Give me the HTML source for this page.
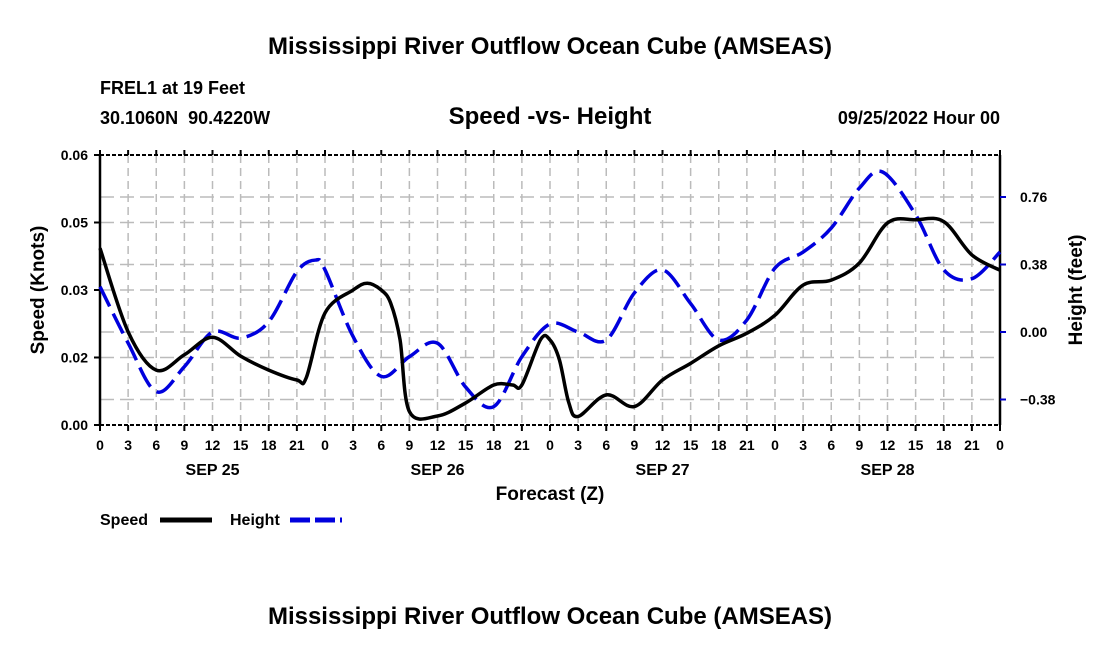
<!DOCTYPE html>
<html><head><meta charset="utf-8"><style>
body{margin:0;background:#fff;}
svg text{font-family:"Liberation Sans",Arial,sans-serif;font-weight:bold;fill:#000;}
</style></head><body>
<svg width="1100" height="650" viewBox="0 0 1100 650" xmlns="http://www.w3.org/2000/svg">
<text x="550" y="54" font-size="24" text-anchor="middle">Mississippi River Outflow Ocean Cube (AMSEAS)</text>
<text x="100" y="94" font-size="18">FREL1 at 19 Feet</text>
<text x="100" y="124" font-size="18">30.1060N&#160;&#160;90.4220W</text>
<text x="550" y="124" font-size="24" text-anchor="middle">Speed -vs- Height</text>
<text x="1000" y="124" font-size="18" text-anchor="end">09/25/2022 Hour 00</text>
<g id="grid"></g>
<g id="axes"></g>
<g id="series"></g>
<text transform="translate(44,290) rotate(-90)" font-size="19" text-anchor="middle">Speed (Knots)</text>
<text transform="translate(1082,290) rotate(-90)" font-size="19" text-anchor="middle">Height (feet)</text>
<text x="550" y="500" font-size="19" text-anchor="middle">Forecast (Z)</text>
<g>
<text x="100" y="525" font-size="16">Speed</text>
<line x1="160" y1="520" x2="212" y2="520" stroke="#000" stroke-width="5"/>
<text x="230" y="525" font-size="16">Height</text>
<line x1="290" y1="520" x2="342" y2="520" stroke="#0000dd" stroke-width="5" stroke-dasharray="20 5"/>
</g>
<text x="550" y="624" font-size="24" text-anchor="middle">Mississippi River Outflow Ocean Cube (AMSEAS)</text>
</svg>
<script>
const hours=[0,3,6,9,12,15,18,21,22,24,27,28.5,30,31,32,33,36,39,42,44,45,47,48,49,50,51,54,57,60,63,66,69,72,75,78,81,84,87,90,93,96];
const speed=[0.0393,0.0207,0.0122,0.0156,0.0195,0.0153,0.0122,0.0100,0.0105,0.0249,0.0300,0.0315,0.0300,0.0271,0.0190,0.0030,0.0020,0.0049,0.0089,0.0089,0.0089,0.0190,0.0189,0.0145,0.0050,0.0019,0.0067,0.0041,0.0100,0.0137,0.0176,0.0204,0.0244,0.0311,0.0322,0.0360,0.0449,0.0456,0.0452,0.0378,0.0344];
const hHours=[0,3,6,9,12,15,18,21,23,24,27,30,33,36,39,42,45,48,51,54,57,60,63,66,69,72,75,78,81,83.5,87,90,93,96];
const height=[0.255,-0.062,-0.336,-0.195,0.0,-0.034,0.058,0.34,0.405,0.35,-0.026,-0.25,-0.139,-0.063,-0.31,-0.42,-0.139,0.045,0.0,-0.045,0.22,0.35,0.16,-0.045,0.068,0.36,0.45,0.585,0.81,0.90,0.66,0.35,0.30,0.45];
const leftTicks=[0,0.015,0.03,0.045,0.06];
const leftTickLabels=["0.00","0.02","0.03","0.05","0.06"];
const rightTicks=[-0.38,0,0.38,0.76];
const rightTickLabels=["\u22120.38","0.00","0.38","0.76"];
const xTickLabels=["0","3","6","9","12","15","18","21"];
const dayLabels=["SEP 25","SEP 26","SEP 27","SEP 28"];
const X0=100,X1=1000,Y0=425,Y1=155;
const xs=h=>X0+h*(X1-X0)/96;
const ysL=v=>Y0-(v-0)*(Y0-Y1)/0.06;
const ysR=v=>332-v*(67.5/0.38);
const NS="http://www.w3.org/2000/svg";
function mk(tag,attrs,parent){const e=document.createElementNS(NS,tag);for(const k in attrs)e.setAttribute(k,attrs[k]);parent.appendChild(e);return e;}
const grid=document.getElementById('grid'),axes=document.getElementById('axes'),series=document.getElementById('series');
for(let h=3;h<96;h+=3){const l=mk('line',{x1:xs(h),x2:xs(h),y1:Y1,y2:Y0,stroke:'#bbb','stroke-width':1.5,'stroke-dasharray':'8 5'},grid);

}
leftTicks.slice(1,4).forEach(v=>{const l=mk('line',{x1:X0,x2:X1,y1:ysL(v),y2:ysL(v),stroke:'#bbb','stroke-width':1.5,'stroke-dasharray':'14 6'},grid);

});
rightTicks.forEach(v=>{const l=mk('line',{x1:X0,x2:X1,y1:ysR(v),y2:ysR(v),stroke:'#bbb','stroke-width':1.5,'stroke-dasharray':'14 6'},grid);

});
let a=mk('line',{x1:X0,x2:X0,y1:Y1,y2:Y0,stroke:'#000','stroke-width':2.5},axes);
a=mk('line',{x1:X1,x2:X1,y1:Y1,y2:Y0,stroke:'#000','stroke-width':2.5},axes);
a=mk('line',{x1:X0,x2:X1,y1:Y1,y2:Y1,stroke:'#000','stroke-width':2,'stroke-dasharray':'4 2'},axes);
a=mk('line',{x1:X0,x2:X1,y1:Y0,y2:Y0,stroke:'#000','stroke-width':2,'stroke-dasharray':'4 2'},axes);
leftTicks.forEach((v,i)=>{mk('line',{x1:X0-6,x2:X0,y1:ysL(v),y2:ysL(v),stroke:'#000','stroke-width':2},axes);
const t=mk('text',{x:X0-12,y:ysL(v)+5,'font-size':14,'text-anchor':'end'},axes);t.textContent=leftTickLabels[i];

});
rightTicks.forEach((v,i)=>{mk('line',{x1:X1,x2:X1+6,y1:ysR(v),y2:ysR(v),stroke:'#0000cc','stroke-width':2},axes);
const t=mk('text',{x:X1+20,y:ysR(v)+5,'font-size':14},axes);t.textContent=rightTickLabels[i];

});
for(let h=0;h<=96;h+=3){mk('line',{x1:xs(h),x2:xs(h),y1:Y0,y2:Y0+6,stroke:'#000','stroke-width':2},axes);
mk('line',{x1:xs(h),x2:xs(h),y1:Y1-5,y2:Y1,stroke:'#000','stroke-width':2},axes);
const t=mk('text',{x:xs(h),y:Y0+25,'font-size':14,'text-anchor':'middle'},axes);t.textContent=xTickLabels[(h/3)%8];

}
dayLabels.forEach((d,i)=>{const t=mk('text',{x:xs(12+24*i),y:Y0+50,'font-size':16,'text-anchor':'middle'},axes);t.textContent=d;

});
function smooth(pts){let d='M'+pts[0][0]+','+pts[0][1];for(let i=0;i<pts.length-1;i++){const p0=pts[Math.max(0,i-1)],p1=pts[i],p2=pts[i+1],p3=pts[Math.min(pts.length-1,i+2)];
d+=' C'+(p1[0]+(p2[0]-p0[0])/6)+','+(p1[1]+(p2[1]-p0[1])/6)+' '+(p2[0]-(p3[0]-p1[0])/6)+','+(p2[1]-(p3[1]-p1[1])/6)+' '+p2[0]+','+p2[1];}return d;}
const hp=mk('path',{d:smooth(hHours.map((h,i)=>[xs(h),ysR(height[i])])),fill:'none',stroke:'#0000dd','stroke-width':3.5,'stroke-dasharray':'22 8'},series);


const sp=mk('path',{d:smooth(hours.map((h,i)=>[xs(h),ysL(speed[i])])),fill:'none',stroke:'#000','stroke-width':3.5},series);


</script>
</body></html>
